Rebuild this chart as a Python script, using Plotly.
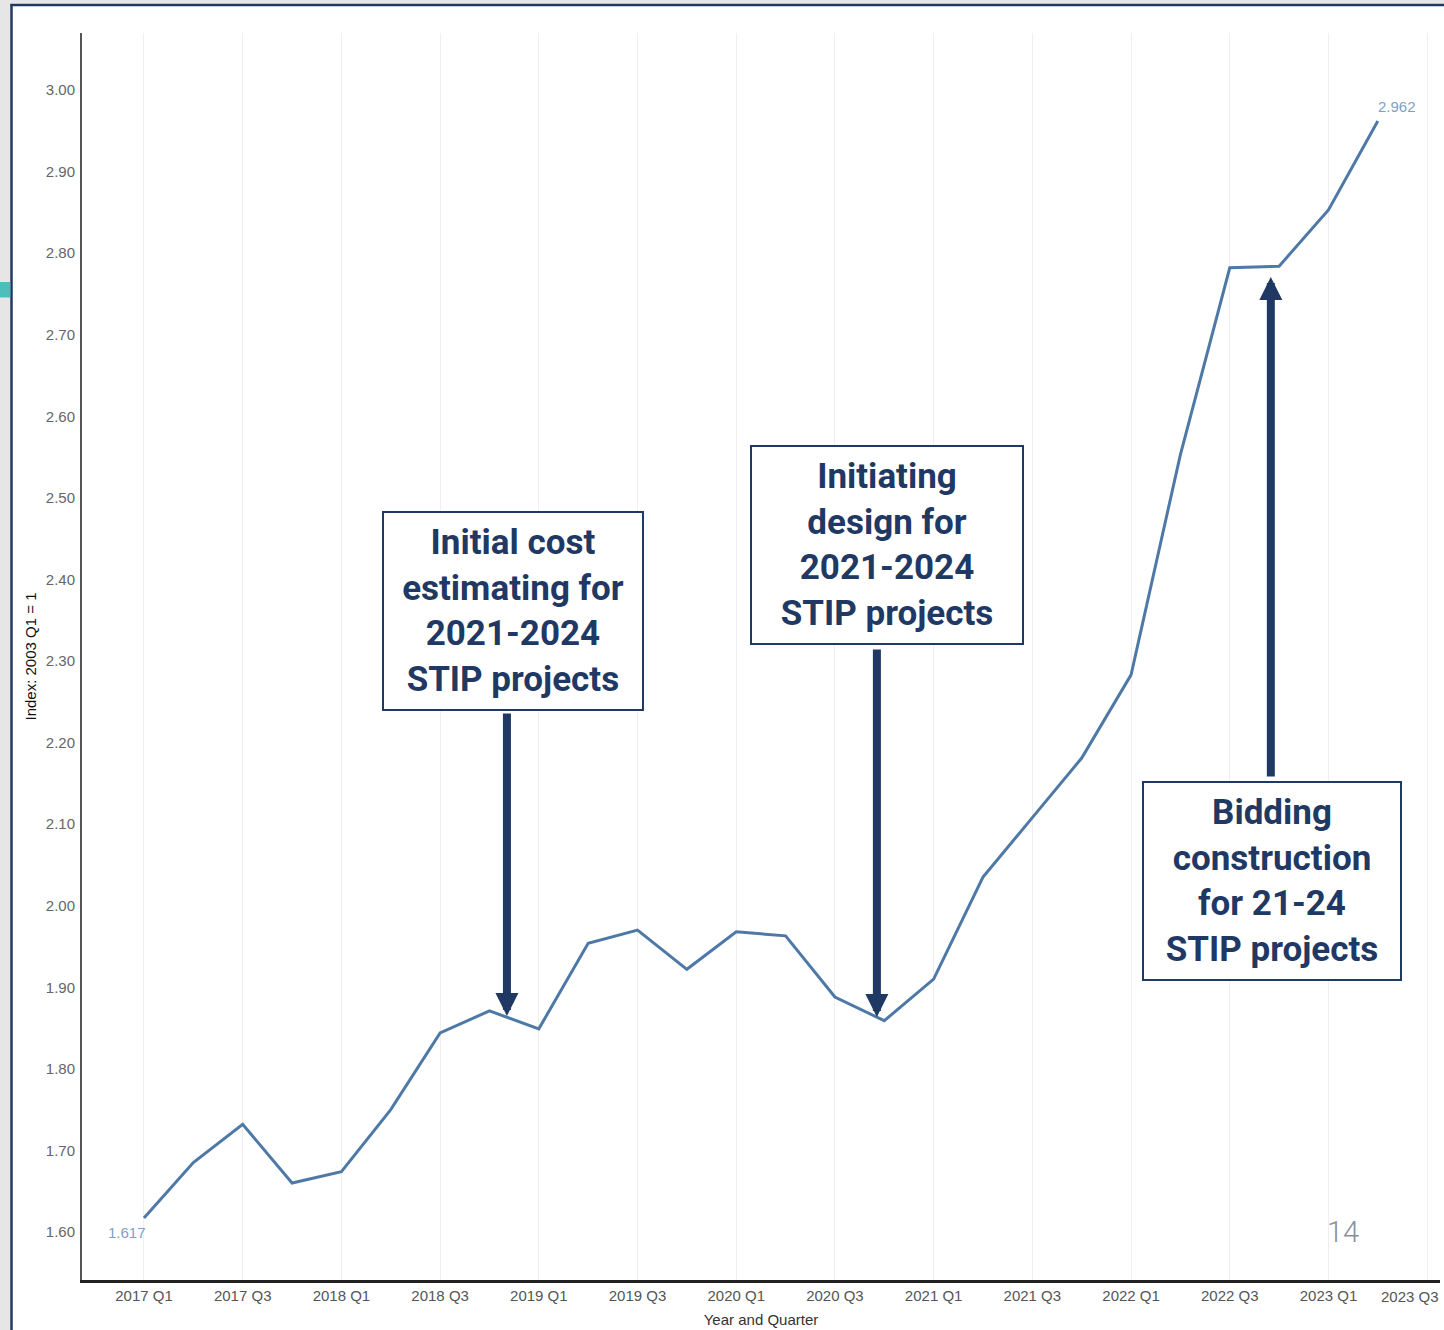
import plotly.graph_objects as go

# ---------------- data ----------------
quarters = [
    "2017 Q1", "2017 Q2", "2017 Q3", "2017 Q4",
    "2018 Q1", "2018 Q2", "2018 Q3", "2018 Q4",
    "2019 Q1", "2019 Q2", "2019 Q3", "2019 Q4",
    "2020 Q1", "2020 Q2", "2020 Q3", "2020 Q4",
    "2021 Q1", "2021 Q2", "2021 Q3", "2021 Q4",
    "2022 Q1", "2022 Q2", "2022 Q3", "2022 Q4",
    "2023 Q1", "2023 Q2",
]
index_values = [
    1.617, 1.685, 1.732, 1.660,
    1.674, 1.750, 1.844, 1.871,
    1.849, 1.954, 1.970, 1.922,
    1.968, 1.963, 1.888, 1.859,
    1.910, 2.035, 2.108, 2.181,
    2.283, 2.553, 2.782, 2.784,
    2.853, 2.962,
]
tick_labels = [
    "2017 Q1", "2017 Q3", "2018 Q1", "2018 Q3", "2019 Q1", "2019 Q3",
    "2020 Q1", "2020 Q3", "2021 Q1", "2021 Q3", "2022 Q1", "2022 Q3",
    "2023 Q1", "2023 Q3",
]
y_ticks = [1.6, 1.7, 1.8, 1.9, 2.0, 2.1, 2.2, 2.3, 2.4, 2.5, 2.6, 2.7, 2.8, 2.9, 3.0]

# ---------------- layout geometry ----------------
W, H = 1444, 1330
L, R, T, B = 82, 4, 33, 50
PW, PH = W - L - R, H - T - B

def pxx(px):
    return (px - L) / PW

def pxy(py):
    return 1 - (py - T) / PH

NAVY = "#1f3864"
LINE = "#4e79a7"
TICK_FONT = dict(family="Liberation Sans, Arial, sans-serif", size=15, color="#555555")

x_pos = list(range(len(quarters)))
tick_vals = [2 * k for k in range(len(tick_labels))]
# the last label sits at the right edge; it is drawn right-aligned below
tick_text = tick_labels[:-1] + [""]

fig = go.Figure()
fig.add_trace(go.Scatter(
    x=x_pos, y=index_values, mode="lines",
    line=dict(color=LINE, width=3),
    hoverinfo="skip", showlegend=False,
))

fig.update_layout(
    width=W, height=H,
    margin=dict(l=L, r=R, t=T, b=B, pad=0),
    paper_bgcolor="white", plot_bgcolor="white",
    font=dict(family="Liberation Sans, Arial, sans-serif"),
    xaxis=dict(
        range=[-1.256, 26.26],
        tickvals=tick_vals, ticktext=tick_text,
        tickfont=TICK_FONT,
        showgrid=True, gridcolor="#efefef", gridwidth=1,
        showline=True, linecolor="#222222", linewidth=2.5,
        ticks="", ticklabelstandoff=0, zeroline=False,
        title=dict(text="Year and Quarter", font=dict(size=15, color="#333333"), standoff=12),
        automargin=False,
    ),
    yaxis=dict(
        range=[1.5411, 3.0699],
        tickvals=y_ticks, ticktext=[f"{v:.2f}" for v in y_ticks],
        tickfont=dict(size=15, color="#666666"),
        showgrid=False, zeroline=False,
        showline=True, linecolor="#555555", linewidth=2,
        ticks="", ticklabelstandoff=2,
        title=dict(text="Index: 2003 Q1 = 1", font=dict(size=15, color="#111111"), standoff=6),
        automargin=False,
    ),
)

shapes = [
    # grey page surroundings
    dict(type="rect", xref="paper", yref="paper", x0=pxx(0), x1=pxx(10.5), y0=pxy(H), y1=pxy(0),
         fillcolor="#e6e6e6", line=dict(width=0), layer="above"),
    dict(type="rect", xref="paper", yref="paper", x0=pxx(0), x1=pxx(W), y0=pxy(3.8), y1=pxy(0),
         fillcolor="#e6e6e6", line=dict(width=0), layer="above"),
    # navy frame
    dict(type="line", xref="paper", yref="paper", x0=pxx(11.5), x1=pxx(11.5), y0=pxy(4), y1=pxy(H),
         line=dict(color=NAVY, width=2.5), layer="above"),
    dict(type="line", xref="paper", yref="paper", x0=pxx(10.5), x1=pxx(W), y0=pxy(5), y1=pxy(5),
         line=dict(color=NAVY, width=2.5), layer="above"),
    # teal tab
    dict(type="rect", xref="paper", yref="paper", x0=pxx(0), x1=pxx(10.2), y0=pxy(297.5), y1=pxy(282),
         fillcolor="#4cbfba", line=dict(width=0), layer="above"),
]
fig.update_layout(shapes=shapes)

BOX_FONT = dict(family="Roboto, sans-serif", size=35, color=NAVY, weight="bold")

def val(py):
    return 3.0 - (py - 90) / 815.7

def qx(px):
    return (px - 144) / 49.36

annotations = []

# last x tick label, kept inside the page
annotations.append(dict(
    text=tick_labels[-1], x=tick_vals[-1], xref="x", y=pxy(1296), yref="paper",
    xanchor="right", yanchor="middle", xshift=14, showarrow=False, font=TICK_FONT,
))

# end-point value labels
LABEL_FONT = dict(family="Liberation Sans, Arial, sans-serif", size=15, color="#7f9fc7")
annotations.append(dict(
    text=f"{index_values[0]:.3f}", x=x_pos[0], y=index_values[0], xref="x", yref="y",
    xanchor="right", yanchor="top", xshift=4, yshift=-4, showarrow=False, font=LABEL_FONT,
))
annotations.append(dict(
    text=f"{index_values[-1]:.3f}", x=x_pos[-1], y=index_values[-1], xref="x", yref="y",
    xanchor="left", yanchor="bottom", xshift=-2, yshift=4, showarrow=False, font=LABEL_FONT,
))

boxes = [
    ("Initial cost<br>estimating for<br>2021-2024<br>STIP projects", 513, 611, 258, 196),
    ("Initiating<br>design for<br>2021-2024<br>STIP projects", 887, 545, 270, 196),
    ("Bidding<br>construction<br>for 21-24<br>STIP projects", 1272, 881, 256, 196),
]
for text, cx, cy, w, h in boxes:
    annotations.append(dict(
        text=text, x=qx(cx), y=val(cy), xref="x", yref="y",
        xanchor="center", yanchor="middle", showarrow=False,
        width=w, height=h, align="center", valign="middle",
        bordercolor=NAVY, borderwidth=2, borderpad=0, bgcolor="white",
        font=BOX_FONT,
    ))

arrows = [
    (507, 1016, 712),
    (877, 1017, 648),
    (1271, 277, 778),
]
for px, tip, tail in arrows:
    annotations.append(dict(
        text="", x=qx(px), y=val(tip), xref="x", yref="y",
        ax=0, ay=tail - tip, axref="pixel", ayref="pixel",
        showarrow=True, arrowhead=2, arrowsize=0.575, arrowwidth=8,
        arrowcolor=NAVY, standoff=0, startstandoff=0,
    ))

annotations.append(dict(
    text="14", xref="paper", yref="paper", x=pxx(1343), y=pxy(1232),
    xanchor="center", yanchor="middle", showarrow=False,
    font=dict(family="Roboto, sans-serif", size=29, color="#8a8f99", weight=300),
))
fig.update_layout(annotations=annotations)

fig.write_html("out.html")
